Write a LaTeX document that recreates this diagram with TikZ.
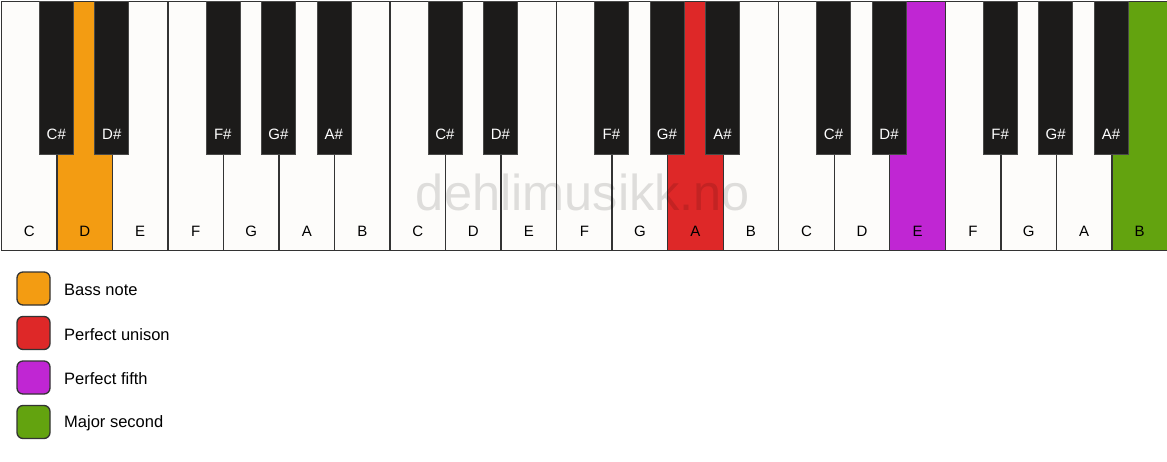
\documentclass[tikz,border=0pt]{standalone}
\usepackage{fontspec}
\setmainfont{Liberation Sans}
\definecolor{ivory}{HTML}{FDFCFA}
\definecolor{keyblack}{HTML}{1C1B1A}
\definecolor{bassorange}{HTML}{F39C12}
\definecolor{unisonred}{HTML}{DE2828}
\definecolor{fifthpurple}{HTML}{C026D3}
\definecolor{secondgreen}{HTML}{63A30F}
\definecolor{edge}{HTML}{333333}
\begin{document}
\begin{tikzpicture}[x=1pt,y=-1pt,
  whitekey/.style={rectangle,draw=edge,line width=1.4pt,fill=ivory,minimum width=55.52pt,minimum height=249pt,inner sep=0pt,anchor=north west},
  blackkey/.style={rectangle,draw=keyblack!80!white,line width=0.6pt,fill=keyblack,minimum width=34pt,minimum height=153pt,inner sep=0pt,anchor=north},
  wlabel/.style={font=\fontsize{15}{18}\selectfont,text=black,inner sep=0pt},
  blabel/.style={font=\fontsize{15}{18}\selectfont,text=white,inner sep=0pt},
  legendbox/.style={rectangle,rounded corners=6pt,draw=edge,line width=1.3pt,minimum width=33pt,minimum height=33pt,inner sep=0pt},
  legendtext/.style={font=\fontsize{16.5}{19}\selectfont,anchor=west,inner sep=0pt},
  watermark/.style={font=\fontsize{50.5}{58}\selectfont,text=black,text opacity=0.12,inner sep=0pt}]
\useasboundingbox (0,0) rectangle (1167,461);
\fill[white] (0,0) rectangle (1167,461);
% white keys
\foreach \i/\n/\c in {0/C/ivory,1/D/bassorange,2/E/ivory,3/F/ivory,4/G/ivory,5/A/ivory,6/B/ivory,
  7/C/ivory,8/D/ivory,9/E/ivory,10/F/ivory,11/G/ivory,12/A/unisonred,13/B/ivory,
  14/C/ivory,15/D/ivory,16/E/fifthpurple,17/F/ivory,18/G/ivory,19/A/ivory,20/B/secondgreen}{
  \node[whitekey,fill=\c] (w\i) at ({0.75+\i*55.52},0.5) {};
  \node[wlabel] (wl\i) at ([yshift=19.5pt]w\i.south) {\n};
}
% watermark
\node[watermark] (wm) at (583,192) {dehlimusikk.no};
% black keys
\foreach \i/\n in {1/C\#,2/D\#,4/F\#,5/G\#,6/A\#,8/C\#,9/D\#,11/F\#,12/G\#,13/A\#,15/C\#,16/D\#,18/F\#,19/G\#,20/A\#}{
  \node[blackkey] (b\i) at (w\i.north west) {};
  \node[blabel] (bl\i) at ([yshift=20pt]b\i.south) {\n};
}
% legend
\foreach \k/\c/\t [count=\j from 0] in {lb/bassorange/Bass note,lu/unisonred/Perfect unison,lf/fifthpurple/Perfect fifth,ls/secondgreen/Major second}{
  \node[legendbox,fill=\c] (\k) at (33.5,{288.5+\j*44.5}) {};
  \node[legendtext] (\k t) at (64,{290+\j*44.5}) {\t};
}
\end{tikzpicture}
\end{document}
